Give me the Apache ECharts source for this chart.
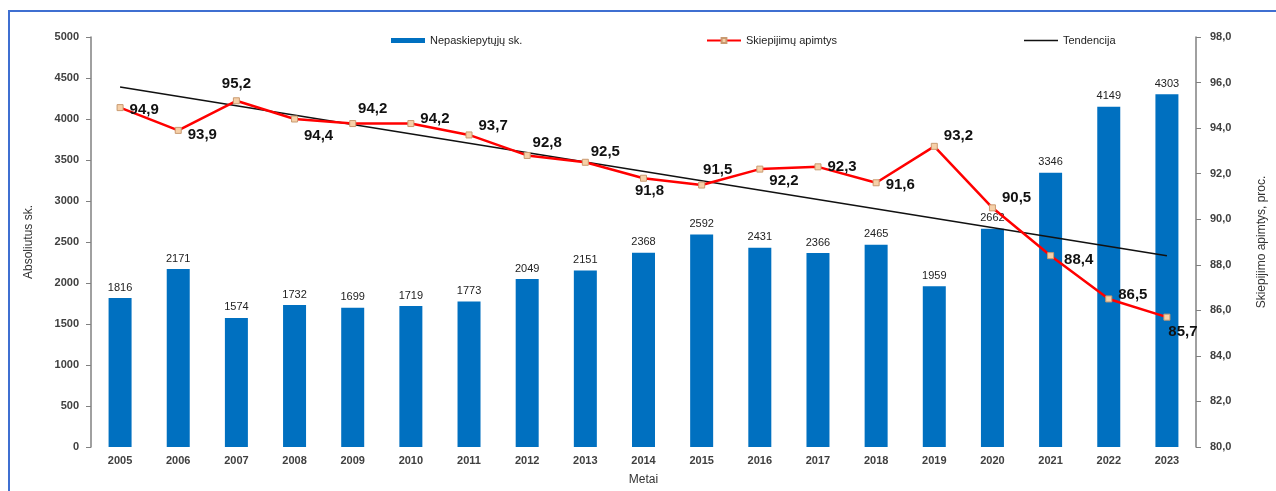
<!DOCTYPE html>
<html>
<head>
<meta charset="utf-8">
<script src="https://cdn.jsdelivr.net/npm/echarts@6/dist/echarts.min.js"></script>
<style>
  html, body { margin: 0; padding: 0; background: #fff; }
  #chart { width: 1276px; height: 491px; }
</style>
</head>
<body>
<div id="chart"></div>
<script>
// Metai (years)
const years = ['2005','2006','2007','2008','2009','2010','2011','2012','2013','2014',
               '2015','2016','2017','2018','2019','2020','2021','2022','2023'];
// Nepaskiepytųjų vaikų skaičius (absolute count)
const unvaccinated = [1816, 2171, 1574, 1732, 1699, 1719, 1773, 2049, 2151, 2368,
                      2592, 2431, 2366, 2465, 1959, 2662, 3346, 4149, 4303];
// Skiepijimų apimtys, proc.
const coverage = [94.9, 93.9, 95.2, 94.4, 94.2, 94.2, 93.7, 92.8, 92.5, 91.8,
                  91.5, 92.2, 92.3, 91.6, 93.2, 90.5, 88.4, 86.5, 85.7];
// Tendencija: straight trend line, start and end values
const trendStart = 95.8;
const trendEnd = 88.4;
// Right axis tick range
const pctMin = 80, pctMax = 98, pctStep = 2;

// Label placement for each coverage point: [position, dx, dy]
const labelPlace = [
  ['right', 0, 2], ['right', 0, 4], ['top', 0, 0], ['bottom', 24, 0], ['top', 20, 2],
  ['right', 0, -5], ['right', 0, -9], ['top', 20, 4], ['top', 20, 7], ['bottom', 6, -4],
  ['top', 16, 2], ['right', 0, 12], ['right', 0, 0], ['right', 0, 2], ['right', 0, -10],
  ['right', 0, -10], ['right', 4, 4], ['right', 0, -4], ['bottom', 16, -2]
];

const fontFam = '"Liberation Sans", Arial, sans-serif';
const chart = echarts.init(document.getElementById('chart'));

const coverageData = coverage.map((v, i) => ({
  value: v,
  label: { position: labelPlace[i][0], offset: [labelPlace[i][1], labelPlace[i][2]] }
}));
const trendData = years.map((_, i) => i === 0 ? trendStart : (i === years.length - 1 ? trendEnd : null));

const axisLabelStyle = { color: '#404040', fontSize: 11, fontWeight: 'bold', fontFamily: fontFam };

chart.setOption({
  animation: false,
  backgroundColor: '#ffffff',
  textStyle: { fontFamily: fontFam },
  graphic: [{
    type: 'polyline',
    shape: { points: [[9, 491], [9, 11], [1276, 11]] },
    style: { stroke: '#3f6fd1', lineWidth: 2, fill: null },
    silent: true
  }],
  legend: [
    {
      data: [{ name: 'Nepaskiepytųjų sk.', icon: 'rect' }],
      left: 386, top: 30, itemWidth: 34, itemHeight: 5, itemGap: 4,
      textStyle: { color: '#222', fontSize: 11, fontFamily: fontFam }
    },
    {
      data: ['Skiepijimų apimtys'],
      left: 701, top: 30, itemWidth: 34, itemHeight: 6,
      textStyle: { color: '#222', fontSize: 11, fontFamily: fontFam }
    },
    {
      data: [{ name: 'Tendencija', icon: 'path://M0,4 L34,4 L34,5.5 L0,5.5 Z' }],
      left: 1019, top: 30, itemWidth: 34, itemHeight: 10,
      textStyle: { color: '#222', fontSize: 11, fontFamily: fontFam }
    }
  ],
  grid: { left: 91, right: 77, top: 37, bottom: 42, containLabel: false },
  xAxis: {
    type: 'category',
    data: years,
    name: 'Metai',
    nameLocation: 'middle',
    nameGap: 27,
    nameTextStyle: { color: '#333', fontSize: 12, fontFamily: fontFam },
    axisLine: { show: false },
    axisTick: { show: false },
    axisLabel: Object.assign({ margin: 8 }, axisLabelStyle)
  },
  yAxis: [
    {
      type: 'value',
      min: 0, max: 5000, interval: 500,
      name: 'Absoliutus sk.',
      nameLocation: 'middle',
      nameGap: 56,
      nameRotate: 90,
      nameTextStyle: { color: '#333', fontSize: 12, fontFamily: fontFam },
      axisLine: { show: true, lineStyle: { color: '#808080', width: 1.5 } },
      axisTick: { show: true, length: 5, lineStyle: { color: '#808080' } },
      splitLine: { show: false },
      axisLabel: Object.assign({ margin: 12, formatter: v => String(v) }, axisLabelStyle)
    },
    {
      type: 'value',
      min: pctMin, max: pctMax, interval: pctStep,
      name: 'Skiepijimo apimtys, proc.',
      nameLocation: 'middle',
      nameGap: 60,
      nameRotate: 90,
      nameTextStyle: { color: '#333', fontSize: 12, fontFamily: fontFam },
      axisLine: { show: true, lineStyle: { color: '#808080', width: 1.5 } },
      axisTick: { show: true, length: 5, lineStyle: { color: '#808080' } },
      splitLine: { show: false },
      axisLabel: Object.assign({
        margin: 14,
        formatter: v => v.toFixed(1).replace('.', ',')
      }, axisLabelStyle)
    }
  ],
  series: [
    {
      name: 'Nepaskiepytųjų sk.',
      type: 'bar',
      data: unvaccinated,
      yAxisIndex: 0,
      barWidth: 23,
      itemStyle: { color: '#0070c0' },
      label: {
        show: true, position: 'top', distance: 5,
        color: '#222', fontSize: 11, fontFamily: fontFam
      },
      z: 2
    },
    {
      name: 'Skiepijimų apimtys',
      type: 'line',
      data: coverageData,
      yAxisIndex: 1,
      symbol: 'rect',
      symbolSize: 6,
      lineStyle: { color: '#ff0000', width: 2.5 },
      itemStyle: { color: '#f6d0a8', borderColor: '#c99a70', borderWidth: 1 },
      label: {
        show: true, distance: 6,
        color: '#111', fontSize: 15, fontWeight: 'bold', fontFamily: fontFam,
        formatter: p => p.value.toFixed(1).replace('.', ',')
      },
      z: 4
    },
    {
      name: 'Tendencija',
      type: 'line',
      data: trendData,
      yAxisIndex: 1,
      connectNulls: true,
      symbol: 'none',
      lineStyle: { color: '#111', width: 1.5 },
      itemStyle: { color: '#111' },
      z: 3
    }
  ]
});
</script>
</body>
</html>
